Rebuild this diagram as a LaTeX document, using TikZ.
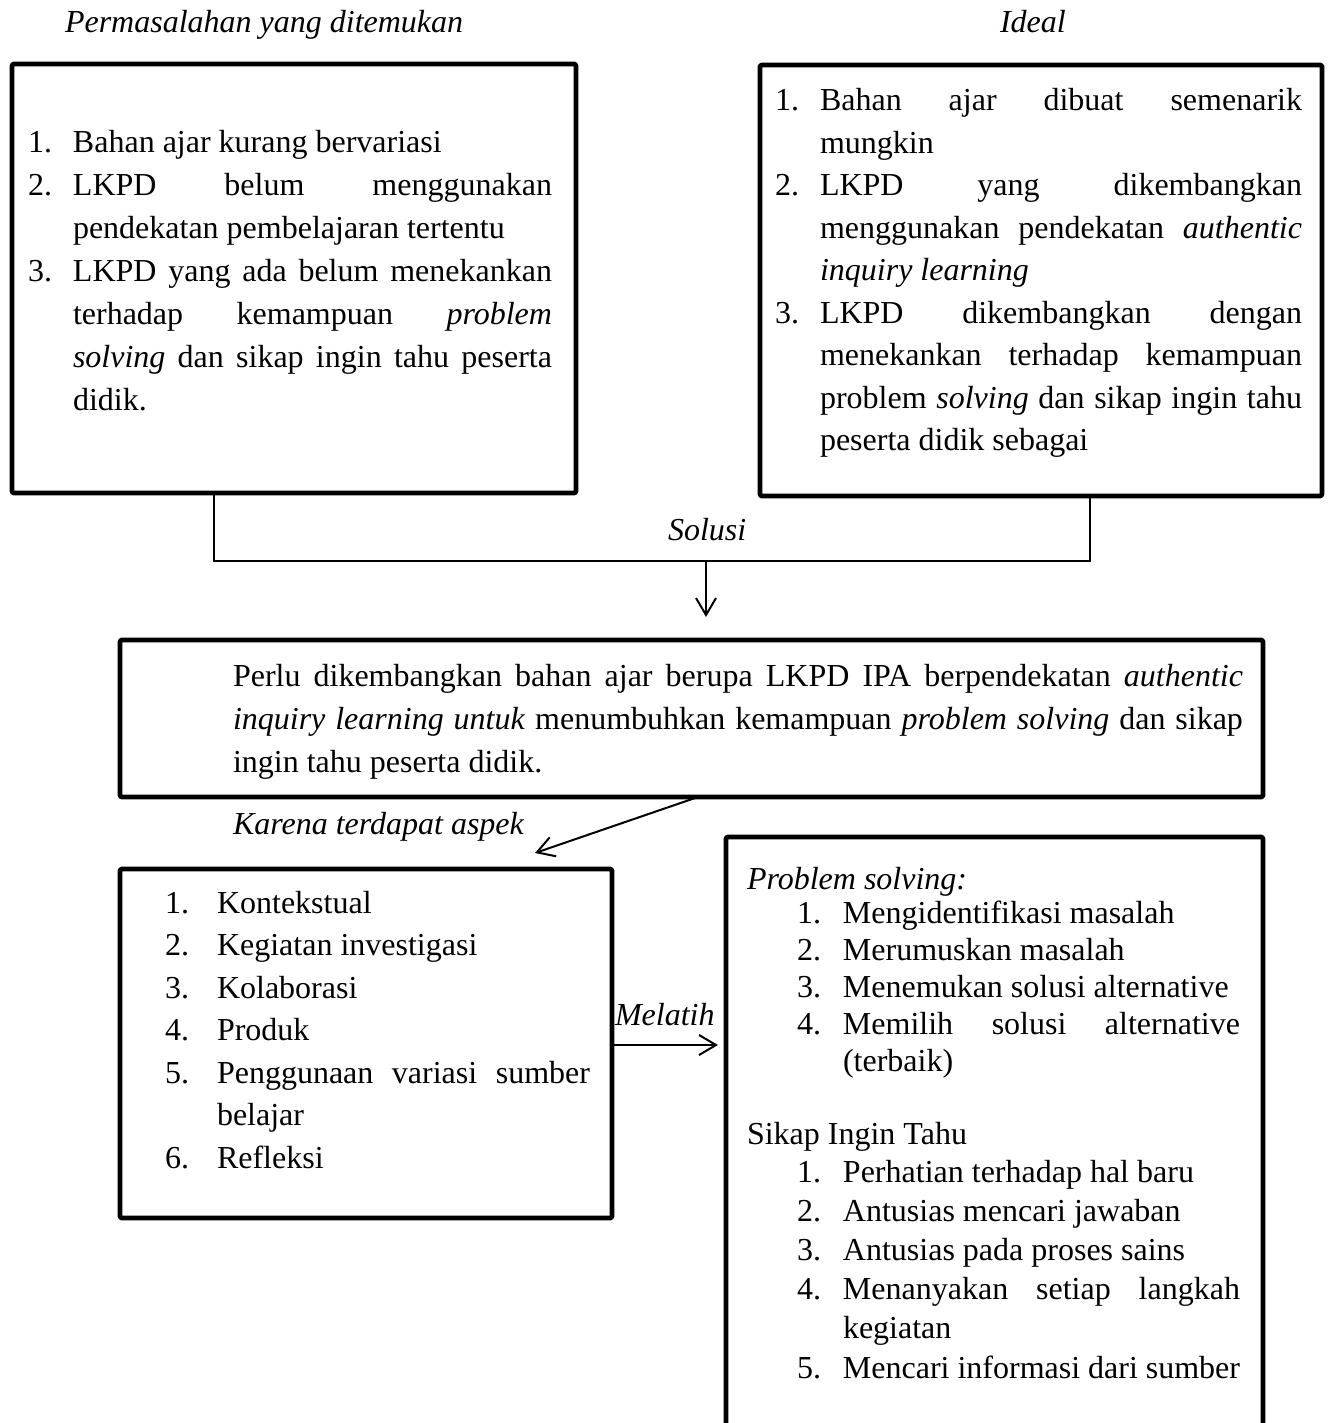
\documentclass[tikz,border=0pt]{standalone}
\usepackage{fontspec}
\setmainfont{Liberation Serif}
\usetikzlibrary{arrows.meta,calc}
\newcommand{\jl}[2]{\makebox[#1][s]{#2}}
\newcommand{\nm}[2]{\makebox[#1][l]{#2}}
\hbadness=10000
\hfuzz=60pt
\begin{document}
\begin{tikzpicture}[x=1pt,y=-1pt,
 framebox/.style={draw, line width=4.8pt, line join=round, rounded corners=1.5pt, anchor=north west, inner sep=0pt, outer sep=0pt},
 bodytext/.style={anchor=base west, inner sep=0pt, outer sep=0pt, font=\fontsize{32}{43}\selectfont},
 link/.style={line width=1.8pt},
 arrowlink/.style={line width=2pt, -{Straight Barb[length=17pt,width=20pt,line width=2pt]}}
]
\useasboundingbox[fill=white] (0,0) rectangle (1331,1423);

% titles
\node[bodytext] (tperm) at (65,33) {\itshape Permasalahan yang ditemukan};
\node[bodytext] (tideal) at (1000,33) {\itshape Ideal};

% boxes
\node[framebox, minimum width=564pt, minimum height=429pt] (b1) at (12,64) {};
\node[framebox, minimum width=562pt, minimum height=431pt] (b2) at (760,65) {};
\node[framebox, minimum width=1143pt, minimum height=157pt] (b3) at (120,640) {};
\node[framebox, minimum width=492pt, minimum height=349pt] (b4) at (120,869) {};
\node[framebox, minimum width=537pt, minimum height=640pt] (b5) at (726,837) {};

% box 1 text
\node[bodytext] (x1) at (28,153) {\parbox[t]{524pt}{%
\nm{45pt}{1.}Bahan ajar kurang bervariasi\\
\nm{45pt}{2.}\jl{479pt}{LKPD belum menggunakan}\\
\hspace*{45pt}pendekatan pembelajaran tertentu\\
\nm{45pt}{3.}\jl{479pt}{LKPD yang ada belum menekankan}\\
\hspace*{45pt}\jl{479pt}{terhadap kemampuan \textit{problem}}\\
\hspace*{45pt}\jl{479pt}{\textit{solving} dan sikap ingin tahu peserta}\\
\hspace*{45pt}didik.}};

% box 2 text
\node[bodytext, font=\fontsize{32}{42.5}\selectfont] (x2) at (775,111) {\parbox[t]{527pt}{%
\nm{45pt}{1.}\jl{482pt}{Bahan ajar dibuat semenarik}\\
\hspace*{45pt}mungkin\\
\nm{45pt}{2.}\jl{482pt}{LKPD yang dikembangkan}\\
\hspace*{45pt}\jl{482pt}{menggunakan pendekatan \textit{authentic}}\\
\hspace*{45pt}\textit{inquiry learning}\\
\nm{45pt}{3.}\jl{482pt}{LKPD dikembangkan dengan}\\
\hspace*{45pt}\jl{482pt}{menekankan terhadap kemampuan}\\
\hspace*{45pt}\jl{482pt}{problem \textit{solving} dan sikap ingin tahu}\\
\hspace*{45pt}peserta didik sebagai}};

% box 3 text
\node[bodytext] (x3) at (233,686) {\parbox[t]{1010pt}{%
\jl{1010pt}{Perlu dikembangkan bahan ajar berupa LKPD IPA berpendekatan \textit{authentic}}\\
\jl{1010pt}{\textit{inquiry learning untuk} menumbuhkan kemampuan \textit{problem solving} dan sikap}\\
ingin tahu peserta didik.}};

% box 4 text
\node[bodytext, font=\fontsize{32}{42.5}\selectfont] (x4) at (165,913) {\parbox[t]{425pt}{%
\nm{52pt}{1.}Kontekstual\\
\nm{52pt}{2.}Kegiatan investigasi\\
\nm{52pt}{3.}Kolaborasi\\
\nm{52pt}{4.}Produk\\
\nm{52pt}{5.}\jl{373pt}{Penggunaan variasi sumber}\\
\hspace*{52pt}belajar\\
\nm{52pt}{6.}Refleksi}};

% box 5 text
\node[bodytext] (x5a) at (747,889) {\itshape Problem solving:};
\node[bodytext, font=\fontsize{32}{37}\selectfont] (x5b) at (797,923) {\parbox[t]{443pt}{%
\nm{46pt}{1.}Mengidentifikasi masalah\\
\nm{46pt}{2.}Merumuskan masalah\\
\nm{46pt}{3.}Menemukan solusi alternative\\
\nm{46pt}{4.}\jl{397pt}{Memilih solusi alternative}\\
\hspace*{46pt}(terbaik)}};
\node[bodytext] (x5c) at (747,1144) {Sikap Ingin Tahu};
\node[bodytext, font=\fontsize{32}{39.2}\selectfont] (x5d) at (797,1182) {\parbox[t]{443pt}{%
\nm{46pt}{1.}Perhatian terhadap hal baru\\
\nm{46pt}{2.}Antusias mencari jawaban\\
\nm{46pt}{3.}Antusias pada proses sains\\
\nm{46pt}{4.}\jl{397pt}{Menanyakan setiap langkah}\\
\hspace*{46pt}kegiatan\\
\nm{46pt}{5.}Mencari informasi dari sumber}};

% connectors
\coordinate (c1) at (214,561);
\coordinate (c2) at (1090,561);
\coordinate (sol) at (706,561);
\draw[link] (b1.south -| c1) -- (c1) -- (c2) -- (b2.south -| c2);
\node[bodytext] (lsol) at (668,540) {\itshape Solusi};
\coordinate (soltip) at ($(b3.north -| sol)+(0,-23)$);
\draw[arrowlink] (sol) -- (soltip);

\coordinate (kstart) at (698,797);
\coordinate (ktip) at (535,853);
\draw[arrowlink] (b3.south -| kstart) -- (ktip);
\node[bodytext] (lkar) at (233,834) {\itshape Karena terdapat aspek};

\coordinate (mel) at (0,1045);
\draw[arrowlink, shorten >=8pt] (b4.east |- mel) -- (b5.west |- mel);
\node[bodytext] (lmel) at (615,1025) {\itshape Melatih};
\end{tikzpicture}
\end{document}
